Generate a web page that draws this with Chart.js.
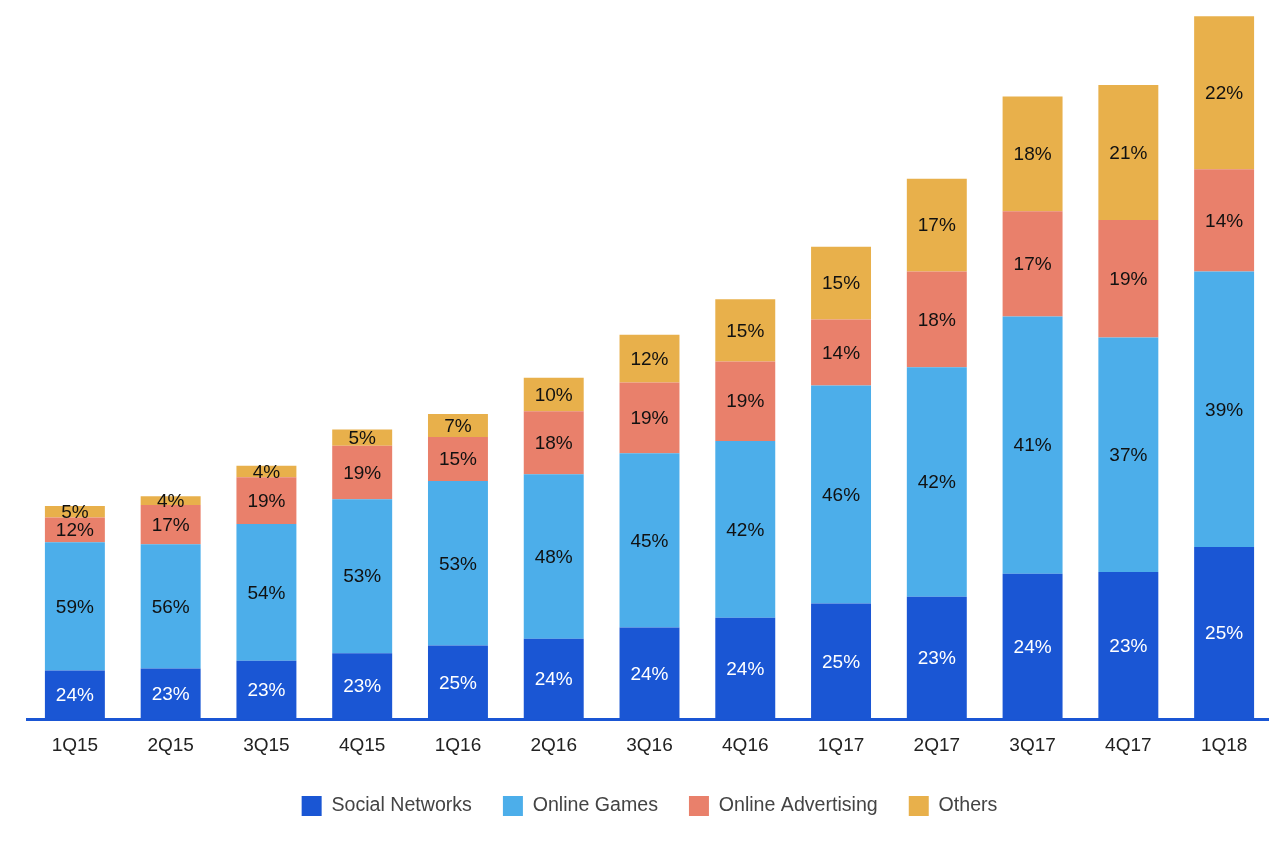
<!DOCTYPE html>
<html>
<head>
<meta charset="utf-8">
<script src="https://cdn.jsdelivr.net/npm/chart.js@4/dist/chart.umd.min.js"></script>
<style>
  html, body { margin: 0; padding: 0; background: #fff; overflow: hidden; }
  #wrap { width: 1273px; height: 853px; }
</style>
</head>
<body>
<div id="wrap"><canvas id="bar" width="1273" height="853"></canvas></div>
<script>
// quarterly revenue split, RMB bn
const quarters = ['1Q15', '2Q15', '3Q15', '4Q15', '1Q16', '2Q16', '3Q16', '4Q16', '1Q17', '2Q17', '3Q17', '4Q17', '1Q18'];
const social = [5.1, 5.3, 6.1, 6.9, 7.7, 8.4, 9.6, 10.6, 12.1, 12.8, 15.2, 15.4, 18.0];
const games = [13.4, 13.0, 14.3, 16.1, 17.2, 17.2, 18.2, 18.5, 22.8, 24.0, 26.9, 24.5, 28.8];
const advertising = [2.6, 4.1, 4.9, 5.6, 4.6, 6.6, 7.4, 8.3, 6.9, 10.0, 11.0, 12.3, 10.7];
const others = [1.2, 0.9, 1.2, 1.7, 2.4, 3.5, 5.0, 6.5, 7.6, 9.7, 12.0, 14.1, 16.0];

// share labels printed in the bars
const socialPct = [24, 23, 23, 23, 25, 24, 24, 24, 25, 23, 24, 23, 25];
const gamesPct = [59, 56, 54, 53, 53, 48, 45, 42, 46, 42, 41, 37, 39];
const advertisingPct = [12, 17, 19, 19, 15, 18, 19, 19, 14, 18, 17, 19, 14];
const othersPct = [5, 4, 4, 5, 7, 10, 12, 15, 15, 17, 18, 21, 22];

const FONT = '"Liberation Sans", Arial, Helvetica, sans-serif';

const segmentLabels = {
    id: 'segmentLabels',
    afterDatasetsDraw(chart) {
        const ctx = chart.ctx;
        ctx.save();
        ctx.font = '19px ' + FONT;
        ctx.textAlign = 'center';
        ctx.textBaseline = 'middle';
        chart.data.datasets.forEach((ds, i) => {
            const meta = chart.getDatasetMeta(i);
            meta.data.forEach((bar, j) => {
                const p = bar.getProps(['x', 'y', 'base'], true);
                ctx.fillStyle = ds.labelColor;
                ctx.fillText(ds.pct[j] + '%', p.x, (p.y + p.base) / 2 + 1);
            });
        });
        ctx.restore();
    }
};

const chartdata = {
    labels: quarters,
    datasets: [{
        label: 'Social Networks',
        backgroundColor: '#1a56d4',
        data: social,
        pct: socialPct,
        labelColor: '#ffffff'
    }, {
        label: 'Online Games',
        backgroundColor: '#4caeea',
        data: games,
        pct: gamesPct,
        labelColor: '#111111'
    }, {
        label: 'Online Advertising',
        backgroundColor: '#e9806b',
        data: advertising,
        pct: advertisingPct,
        labelColor: '#111111'
    }, {
        label: 'Others',
        backgroundColor: '#e8b04b',
        data: others,
        pct: othersPct,
        labelColor: '#111111'
    }]
};

const config = {
    type: 'bar',
    data: chartdata,
    options: {
        responsive: false,
        animation: false,
        barPercentage: 0.626,
        categoryPercentage: 1,
        layout: { padding: { left: 27, right: 1, top: 0, bottom: 27 } },
        scales: {
            x: {
                stacked: true,
                grid: { display: false },
                border: { display: true, color: '#1a56d4', width: 3 },
                ticks: { color: '#222', padding: 7, font: { size: 19, family: FONT } },
                afterFit(scale) { scale.height += 1; }
            },
            y: {
                stacked: true,
                display: false,
                min: 0,
                max: 75.2
            }
        },
        plugins: {
            tooltip: { enabled: false },
            legend: {
                position: 'bottom',
                labels: {
                    boxWidth: 20,
                    boxHeight: 20,
                    padding: 31,
                    color: '#444',
                    font: { size: 19.6, family: FONT }
                }
            }
        }
    },
    plugins: [segmentLabels]
};

const bar = new Chart(document.getElementById('bar'), config);
</script>
</body>
</html>
